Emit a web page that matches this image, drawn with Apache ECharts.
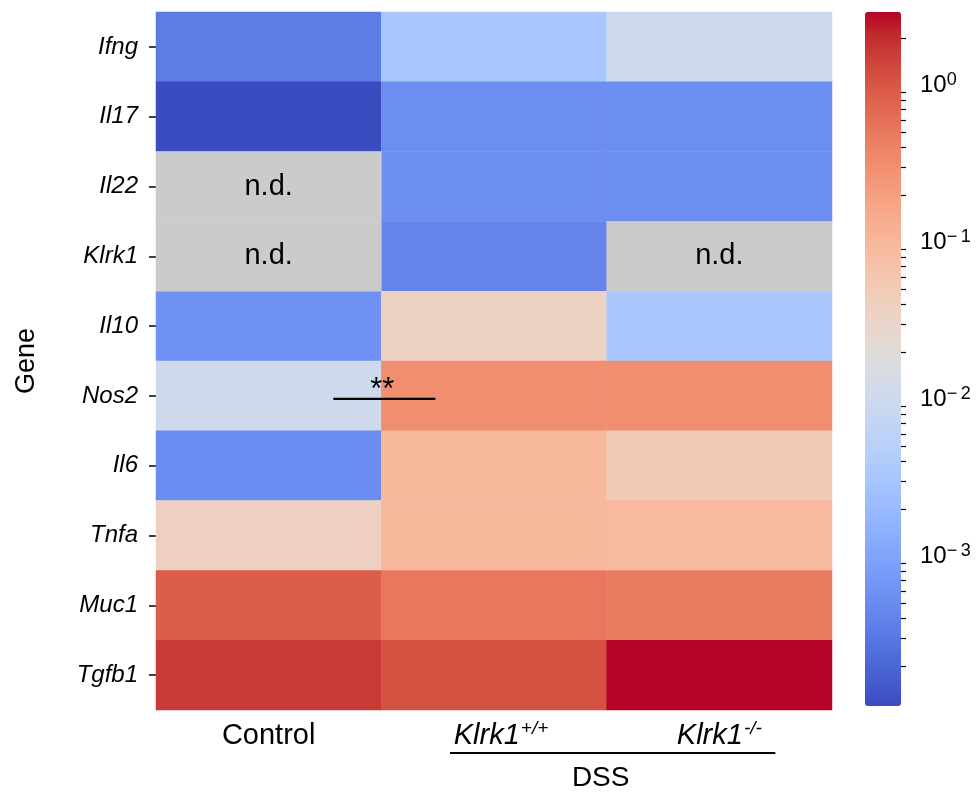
<!DOCTYPE html>
<html>
<head>
<meta charset="utf-8">
<title>Gene expression heatmap</title>
<script src="https://cdn.jsdelivr.net/npm/echarts@6/dist/echarts.min.js"></script>
<style>
  html, body { margin: 0; padding: 0; background: #ffffff; }
  #chart { width: 978px; height: 794px; }
</style>
</head>
<body>
<div id="chart"></div>
<script>
// Relative expression per gene (rows) and group (columns); null = not detected
const genes = ['Ifng', 'Il17', 'Il22', 'Klrk1', 'Il10', 'Nos2', 'Il6', 'Tnfa', 'Muc1', 'Tgfb1'];
const groups = ['Control', 'Klrk1+/+', 'Klrk1-/-'];
const groupSup = ['', '+/+', '-/-'];
const control = [3.4e-4, 1.11e-4, null, null, 5.9e-4, 0.0103, 5.1e-4, 0.039, 0.86, 1.66];
const klrk1WT = [3.2e-3, 5.4e-4, 5.4e-4, 4.2e-4, 0.037, 0.31, 0.097, 0.10, 0.51, 1.11];
const klrk1KO = [9.8e-3, 5.4e-4, 5.4e-4, null, 3.2e-3, 0.31, 0.052, 0.092, 0.47, 2.92];
const colorbarTicks = [-3, -2, -1, 0];   // log10 positions of labelled ticks
const minorFactors = [2, 3, 4, 5, 6, 7, 8, 9];
const ndLabel = 'n.d.';
const sigLabel = '**';
const groupBracketLabel = 'DSS';

// matplotlib "coolwarm" colormap (Moreland diverging)
const coolwarm = [
  [59,76,192],[68,90,204],[77,104,215],[87,117,225],[98,130,234],[108,142,241],
  [119,154,247],[130,165,251],[141,176,254],[152,185,255],[163,194,255],[174,201,253],
  [184,208,249],[194,213,244],[204,217,238],[213,219,230],[221,221,221],[229,216,209],
  [236,211,197],[241,204,185],[245,196,173],[247,187,160],[247,177,148],[247,166,135],
  [244,154,123],[241,141,111],[236,127,99],[229,112,88],[222,96,77],[213,80,66],
  [203,62,56],[192,40,47],[180,4,38]
].map(c => 'rgb(' + c.join(',') + ')');

const FONT = '"Liberation Sans", Arial, Helvetica, sans-serif';
const columns = [control, klrk1WT, klrk1KO];

// heatmap cells in log10 space, and the not-detected cells
const cells = [];
const ndCells = [];
columns.forEach((col, xi) => {
  col.forEach((v, yi) => {
    if (v === null) ndCells.push([xi, yi, 0]);
    else cells.push([xi, yi, Math.log10(v)]);
  });
});
const logVals = cells.map(c => c[2]);
const logMin = Math.min(...logVals);
const logMax = Math.max(...logVals);

// minor tick positions on the colorbar (log10 of k * 10^n within range)
const minorTicks = [];
for (let e = -5; e <= 1; e++) {
  minorFactors.forEach(k => {
    const p = e + Math.log10(k);
    if (p > logMin && p < logMax) minorTicks.push(p);
  });
}

// layout of the plot area
const G = { left: 156, top: 12, width: 676, height: 698 };
const CB = { left: 865, top: 12, width: 36, height: 694 };

const chart = echarts.init(document.getElementById('chart'));

function powLabel(v) {
  const n = Math.round(v);
  const exp = n < 0 ? '\u2212\u2009' + Math.abs(n) : String(n);
  return '{b|10}{s|' + exp + '}';
}

function groupLabel(val, idx) {
  if (!groupSup[idx]) return '{n|' + val + '}';
  const base = idx === 1 ? 'iw' : 'i';
  return '{' + base + '|Klrk1}{s|' + groupSup[idx] + '}';
}

const option = {
  animation: false,
  backgroundColor: '#ffffff',
  textStyle: { fontFamily: FONT },
  grid: [
    { left: G.left, top: G.top, width: G.width, height: G.height },
    { left: CB.left, top: CB.top, width: CB.width, height: CB.height }
  ],
  xAxis: [
    {
      type: 'category', gridIndex: 0, data: groups, position: 'bottom',
      axisLine: { show: false }, axisTick: { show: false }, splitLine: { show: false },
      axisLabel: {
        margin: 9, color: '#000',
        formatter: groupLabel,
        rich: {
          n: { fontSize: 29, fontFamily: FONT, color: '#000', lineHeight: 34 },
          i: { fontSize: 29, fontFamily: FONT, fontStyle: 'italic', color: '#000', lineHeight: 34 },
          iw: { fontSize: 29, fontFamily: FONT, fontStyle: 'italic', color: '#000', lineHeight: 34, padding: [0, 0, 0, 14] },
          s: { fontSize: 19, fontFamily: FONT, fontStyle: 'italic', color: '#000', verticalAlign: 'top', lineHeight: 22, padding: [0, 0, 0, 1] }
        }
      }
    },
    { type: 'value', gridIndex: 1, show: false, min: 0, max: 1 }
  ],
  yAxis: [
    {
      type: 'category', gridIndex: 0, data: genes, inverse: true,
      name: 'Gene', nameLocation: 'middle', nameRotate: 90, nameGap: 116,
      nameTextStyle: { fontSize: 27, color: '#000', fontFamily: FONT },
      axisLine: { show: false },
      axisTick: { show: true, length: 7, alignWithLabel: true, lineStyle: { color: '#000', width: 1.5 } },
      axisLabel: { margin: 18, fontSize: 24, fontStyle: 'italic', color: '#000', fontFamily: FONT },
      splitLine: { show: false }
    },
    {
      type: 'value', gridIndex: 1, position: 'right', min: logMin, max: logMax,
      axisLine: { show: false }, splitLine: { show: false },
      axisTick: { show: true, length: 8, customValues: colorbarTicks, lineStyle: { color: '#000', width: 1.5 } },
      axisLabel: {
        margin: 19, customValues: colorbarTicks, formatter: powLabel,
        rich: {
          b: { fontSize: 24, fontFamily: FONT, color: '#000', lineHeight: 28 },
          s: { fontSize: 18, fontFamily: FONT, color: '#000', verticalAlign: 'top', lineHeight: 20 }
        }
      }
    },
    {
      type: 'value', gridIndex: 1, position: 'right', min: logMin, max: logMax,
      axisLine: { show: false }, splitLine: { show: false },
      axisTick: { show: true, length: 5, customValues: minorTicks, lineStyle: { color: '#000', width: 1.2 } },
      axisLabel: { show: false }
    }
  ],
  visualMap: {
    type: 'continuous', seriesIndex: 0, dimension: 2,
    min: logMin, max: logMax, calculable: false, realtime: false,
    orient: 'vertical', left: CB.left, top: CB.top,
    itemWidth: CB.width, itemHeight: CB.height, padding: 0,
    text: null, showLabel: false, hoverLink: false,
    inRange: { color: coolwarm }
  },
  series: [
    {
      type: 'heatmap', xAxisIndex: 0, yAxisIndex: 0, data: cells,
      itemStyle: { borderWidth: 0 },
      emphasis: { disabled: true }
    },
    {
      type: 'heatmap', xAxisIndex: 0, yAxisIndex: 0, data: ndCells,
      itemStyle: { color: '#cbcbcb', borderWidth: 0 },
      label: { show: true, formatter: ndLabel, fontSize: 29, color: '#000', fontFamily: FONT },
      emphasis: { disabled: true }
    }
  ]
};

chart.setOption(option);

// annotations: significance bar between Control and Klrk1+/+ on Nos2, DSS bracket
const rowH = G.height / genes.length;
const colW = G.width / groups.length;
const nosRow = genes.indexOf('Nos2');
const sigY = G.top + (nosRow + 0.5) * rowH + 3;
const sigX = G.left + colW;
const bracketY = G.top + G.height + 43;
chart.setOption({
  graphic: [
    { type: 'line', z: 100, shape: { x1: sigX - 48, y1: sigY, x2: sigX + 54, y2: sigY },
      style: { stroke: '#000', lineWidth: 2.2 } },
    { type: 'text', z: 100, x: sigX + 1, y: sigY - 8, style: { text: sigLabel, fontSize: 31, fontFamily: FONT, fill: '#000', align: 'center', verticalAlign: 'middle' } },
    { type: 'line', z: 100, shape: { x1: G.left + colW * 1.5 - 44, y1: bracketY, x2: G.left + colW * 2.5 + 56, y2: bracketY },
      style: { stroke: '#000', lineWidth: 2.2 } },
    { type: 'text', z: 100, x: G.left + colW * 2 - 6, y: bracketY + 25, style: { text: groupBracketLabel, fontSize: 28, fontFamily: FONT, fill: '#000', align: 'center', verticalAlign: 'middle' } }
  ]
});
</script>
</body>
</html>
